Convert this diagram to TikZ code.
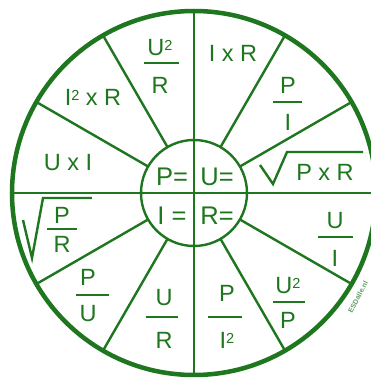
\documentclass[tikz,border=0pt]{standalone}
\usepackage{fontspec}
\setmainfont{Liberation Sans}
\usetikzlibrary{calc}
\definecolor{ohmGreen}{HTML}{1E761E}
\newcommand{\sqr}{\raisebox{5pt}{\fontsize{14.5}{14.5}\selectfont 2}}

\begin{document}
\begin{tikzpicture}[
  x=1pt, y=1pt,
  ring/.style={draw=ohmGreen, line width=4.5pt},
  spoke/.style={draw=ohmGreen, line width=2.4pt},
  bar/.style={draw=ohmGreen, line width=2.6pt},
  root/.style={draw=ohmGreen, line width=2.4pt, line join=miter},
  term/.style={text=ohmGreen, font=\fontsize{23.5}{23.5}\selectfont, inner sep=0pt, text height=17pt, text depth=0pt},
  key/.style={text=ohmGreen, font=\fontsize{25.5}{25.5}\selectfont, inner sep=0pt, text height=18pt, text depth=0pt},
  stamp/.style={text=ohmGreen!70, font=\bfseries\fontsize{7}{7}\selectfont, inner sep=0pt}
]
  \useasboundingbox[fill=white] (-194,-187) rectangle (177,193);

  % wheel
  \coordinate (c) at (0,0);
  \draw[ring] (c) circle[radius=182];
  \draw[spoke] (c) circle[radius=53];
  \draw[spoke] (-182,0) -- (182,0);
  \draw[spoke] (0,-182) -- (0,182);
  \foreach \a in {30,60,120,150,210,240,300,330}
    \draw[spoke] (\a:53) -- (\a:182);

  % centre
  \node[key] (pkey) at (-22,17) {P=};
  \node[key] (ukey) at (23,17) {U=};
  \node[key] (ikey) at (-22,-22) {I =};
  \node[key] (rkey) at (23,-22) {R=};

  % U =
  \node[term] (uir) at (39,140) {I x R};
  \node[term] (upn) at (94,108) {P};
  \node[term] (upd) at (94,71) {I};
  \draw[bar] (79,91) -- (108,91);
  \node[term] (upr) at (131,21) {P x R};
  \draw[root] (66,28) -- (79,9) -- (93,41) -- (169,41);

  % R =
  \node[term] (run) at (141,-27) {U};
  \node[term] (rud) at (141,-65) {I};
  \draw[bar] (124,-44) -- (159,-44);
  \node[term] (rusn) at (94,-92) {U\sqr};
  \node[term] (rusd) at (94,-127) {P};
  \draw[bar] (79,-109) -- (111,-109);
  \node[term] (rpn) at (33,-100) {P};
  \node[term] (rpd) at (33,-147) {I\sqr};
  \draw[bar] (14,-124) -- (48,-124);

  % I =
  \node[term] (iun) at (-30,-104) {U};
  \node[term] (iud) at (-30,-147) {R};
  \draw[bar] (-48,-124) -- (-16,-124);
  \node[term] (ipn) at (-106,-84) {P};
  \node[term] (ipd) at (-106,-120) {U};
  \draw[bar] (-118,-102) -- (-85,-102);
  \node[term] (iprn) at (-132,-22) {P};
  \node[term] (iprd) at (-132,-51) {R};
  \draw[bar] (-147,-36) -- (-117,-36);
  \draw[root] (-171,-27) -- (-162,-65) -- (-151,-5) -- (-102,-5);

  % P =
  \node[term] (pui) at (-126,31) {U x I};
  \node[term] (pir) at (-101,96) {I\sqr\ x R};
  \node[term] (pun) at (-34,146) {U\sqr};
  \node[term] (pud) at (-34,108) {R};
  \draw[bar] (-50,130) -- (-15,130);

  \node[stamp, rotate=62] (site) at (164,-104) {ESDalle.nl};
\end{tikzpicture}
\end{document}
